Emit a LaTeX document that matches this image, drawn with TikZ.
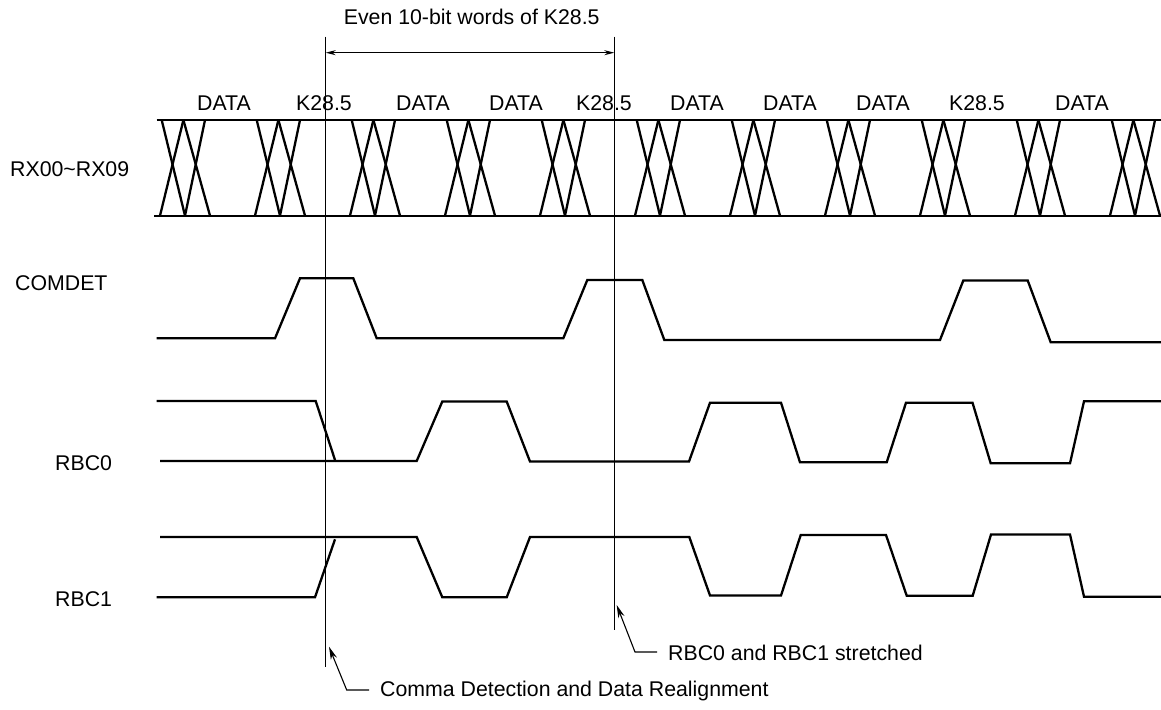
\documentclass[tikz,border=0pt]{standalone}
\usepackage{fontspec}
\setmainfont{Liberation Sans}
\usetikzlibrary{arrows.meta}
\begin{document}
\begin{tikzpicture}[x=1pt,y=-1pt,
  every node/.style={font=\fontsize{21.3}{25}\selectfont, inner sep=0pt},
  wave/.style={line width=2.3pt, line join=miter},
  marker/.style={line width=1.1pt},
  dimarrow/.style={line width=1.1pt, {Stealth[length=10pt,width=5pt]}-{Stealth[length=10pt,width=5pt]}},
  leader/.style={line width=1.1pt, {Stealth[length=13pt,width=6.5pt]}-}]
\useasboundingbox (0,0) rectangle (1161,709);

% signal names
\node[anchor=base west] (lrx) at (10,176.7) {RX00\textasciitilde RX09};
\node[anchor=base west] (lcom) at (15,290.7) {COMDET};
\node[anchor=base west] (lrbc0) at (55,470) {RBC0};
\node[anchor=base west] (lrbc1) at (55,606.7) {RBC1};

% word labels above the bus
\foreach \x/\t [count=\i] in {224/DATA,324/K28.5,423/DATA,516/DATA,604/K28.5,697/DATA,790/DATA,883/DATA,977/K28.5,1082/DATA}
  \node[anchor=base] (w\i) at (\x,110.7) {\t};

% bus RX00~RX09
\draw[wave] (156.7,120) -- (1161,120);
\draw[wave] (154,215.7) -- (1161,215.7);
\foreach \k in {0,...,10}{
  \pgfmathsetmacro{\s}{161.7+95*\k}
  \draw[wave] (\s,120) -- (\s+23.3,215.7);
  \draw[wave] (\s-1.7,215.7) -- (\s+21.7,120);
  \draw[wave] (\s+21.7,120) -- (\s+48.3,215.7);
  \draw[wave] (\s+23.3,215.7) -- (\s+43.3,120);
}

% COMDET
\draw[wave] (156.7,338.3) -- (275,338.3) -- (300,278.3) -- (353.3,278.3) -- (376.7,338.3)
  -- (563.3,338.3) -- (587.3,280) -- (642.3,280) -- (664.3,340) -- (940,340)
  -- (963.3,280.5) -- (1027.7,280.5) -- (1050.7,342.3) -- (1161,342.3);

% RBC0
\draw[wave] (156.7,401) -- (315.7,401) -- (335,460);
\draw[wave] (160,461) -- (416.7,461) -- (442.3,401.5) -- (506.7,401.5) -- (530,461.5)
  -- (689,461.5) -- (710,402.7) -- (781,402.7) -- (800,462.3) -- (886.7,462.3)
  -- (906,402.7) -- (972.5,402.7) -- (990.7,463.3) -- (1070,463.3) -- (1084,401.3) -- (1161,401.3);

% RBC1
\draw[wave] (160,537) -- (416.7,537) -- (442.3,597.3) -- (506.7,597.3) -- (530,537)
  -- (689.3,537) -- (710,595.5) -- (781,595.5) -- (800.7,535) -- (886,535)
  -- (906.7,595.7) -- (972.7,595.7) -- (991,534.5) -- (1070,534.5) -- (1084,596.7) -- (1161,596.7);
\draw[wave] (156.7,597.3) -- (315,597.3) -- (335,539.3);

% marker lines
\coordinate (m1t) at (325.7,36.7);
\coordinate (m1b) at (325.7,666.7);
\coordinate (m2t) at (614.3,36.7);
\coordinate (m2b) at (614.3,630);
\draw[marker] (m1t) -- (m1b);
\draw[marker] (m2t) -- (m2b);

% dimension arrow
\coordinate (d1) at (325.7,52.7);
\coordinate (d2) at (614.3,52.7);
\draw[dimarrow] (d1) -- (d2);
\node[anchor=base] (even) at (471.7,25) {Even 10-bit words of K28.5};

% annotations
\node[anchor=west] (comma) at (380,691) {Comma Detection and Data Realignment};
\coordinate (a1) at (329,646.7);
\coordinate (b1) at (346.7,690);
\draw[leader] (a1) -- (b1) -- ([xshift=-11pt]comma.west |- b1);

\node[anchor=west] (stretch) at (668,653) {RBC0 and RBC1 stretched};
\coordinate (a2) at (616.7,605);
\coordinate (b2) at (635,652);
\draw[leader] (a2) -- (b2) -- ([xshift=-11pt]stretch.west |- b2);
\end{tikzpicture}
\end{document}
